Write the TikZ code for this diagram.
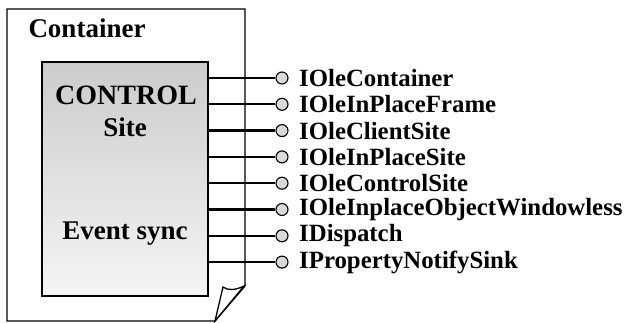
\documentclass[tikz,border=0pt]{standalone}
\usepackage{fontspec}
\setmainfont{Liberation Serif}
\begin{document}
\begin{tikzpicture}[x=1pt,y=-1pt,
  border/.style={draw=black,line width=1.3pt},
  conn/.style={draw=black,line width=2.2pt},
  lolli/.style={circle,draw=black,line width=1.1pt,fill=gray!30,minimum size=12pt,inner sep=0pt},
  iface/.style={anchor=west,inner sep=0pt,font=\fontsize{24.8}{25}\selectfont\bfseries},
  big/.style={anchor=base,inner sep=0pt,font=\fontsize{27}{28}\selectfont\bfseries}]
\useasboundingbox (0,0) rectangle (627,323);
% page (container) with folded corner
\draw[border,fill=white] (7,9) -- (245,9) -- (245,286) -- (215,321) -- (7,321) -- cycle;
\draw[border,fill=white] (244,286) .. controls (236,290) and (228,291) .. (223,287) -- (215,321) -- cycle;
\node[big] (cont) at (87,38) {Container};
% control site box
\node[border,rectangle,top color=gray!40,bottom color=gray!8,minimum width=166pt,minimum height=234pt,inner sep=0pt] (site) at (125,179) {};
\node[big,font=\fontsize{28}{29}\selectfont\bfseries] (ctrl) at (126,105) {CONTROL};
\node[big] (sitet) at (125,137) {Site};
\node[big] (evt) at (125,240) {Event sync};
% interfaces
\foreach \i/\t in {1/IOleContainer,2/IOleInPlaceFrame,3/IOleClientSite,4/IOleInPlaceSite,5/IOleControlSite,6/IOleInplaceObjectWindowless,7/IDispatch,8/IPropertyNotifySink}{
  \pgfmathsetmacro{\yy}{78+26.3*(\i-1)}
  \node[lolli] (lp\i) at (282,\yy) {};
  \node[iface] (lab\i) at (299,\yy) {\t};
  \draw[conn] (site.east |- lp\i) -- (lp\i.west);
}
\end{tikzpicture}
\end{document}
